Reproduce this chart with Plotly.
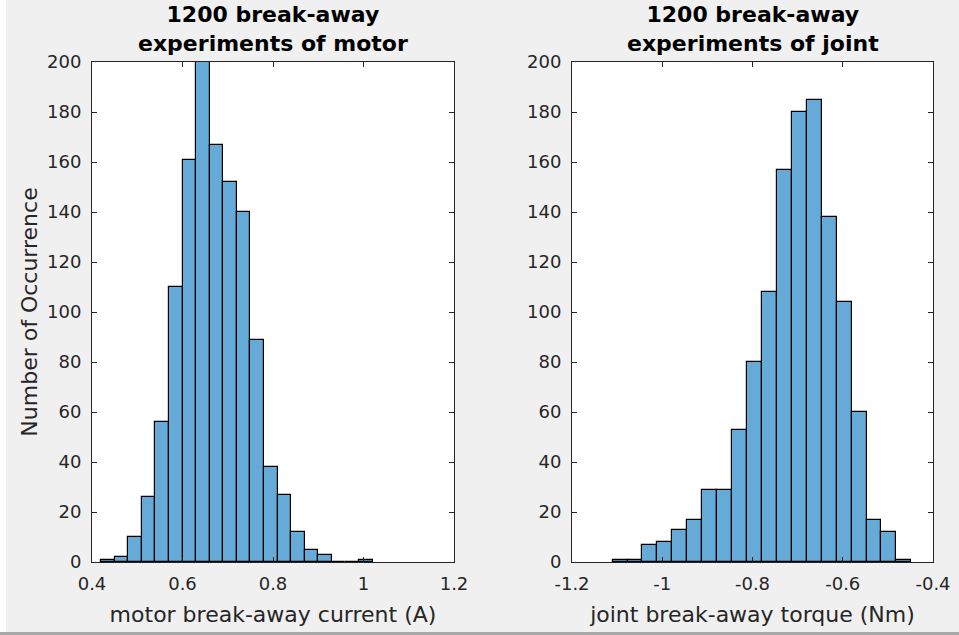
import plotly.graph_objects as go

# ---------------- data ----------------
motor_edges = [0.42 + 0.03 * k for k in range(21)]
motor_counts = [1, 2, 10, 26, 56, 110, 161, 200, 167, 152, 140, 89, 38, 27, 12, 5, 3, 0, 0, 1]

joint_edges = [-1.11 + 0.0331 * k for k in range(21)]
joint_counts = [1, 1, 7, 8, 13, 17, 29, 29, 53, 80, 108, 157, 180, 185, 138, 104, 60, 17, 12, 1]

motor_ticks = [0.4, 0.6, 0.8, 1.0, 1.2]
motor_ticklabels = ["0.4", "0.6", "0.8", "1", "1.2"]
joint_ticks = [-1.2, -1.0, -0.8, -0.6, -0.4]
joint_ticklabels = ["-1.2", "-1", "-0.8", "-0.6", "-0.4"]
y_ticks = list(range(0, 201, 20))

titles = ["1200 break-away<br>experiments of motor", "1200 break-away<br>experiments of joint"]
x_labels = ["motor break-away current (A)", "joint break-away torque (Nm)"]
y_label = "Number of Occurrence"

# ---------------- style ----------------
W, H = 959, 635
FONT = "DejaVu Sans"
TXT = "#262626"
BAR = "#66aad7"
BG = "#f0f0f0"


def centers(edges):
    return [(edges[i] + edges[i + 1]) / 2 for i in range(len(edges) - 1)]


def widths(edges):
    return [edges[i + 1] - edges[i] for i in range(len(edges) - 1)]


fig = go.Figure()
fig.add_trace(go.Bar(x=centers(motor_edges), y=motor_counts, width=widths(motor_edges),
                     marker=dict(color=BAR, line=dict(color="#000000", width=1.2)),
                     xaxis="x", yaxis="y", showlegend=False, hoverinfo="x+y"))
fig.add_trace(go.Bar(x=centers(joint_edges), y=joint_counts, width=widths(joint_edges),
                     marker=dict(color=BAR, line=dict(color="#000000", width=1.2)),
                     xaxis="x2", yaxis="y2", showlegend=False, hoverinfo="x+y"))

xdom1 = [92 / W, 454 / W]
xdom2 = [572 / W, 933 / W]
ydom = [1 - 562 / H, 1 - 62 / H]

axis_common = dict(showline=True, linecolor=TXT, linewidth=1, mirror="ticks",
                   ticks="inside", ticklen=5, tickcolor=TXT, tickwidth=1,
                   showgrid=False, zeroline=False, automargin=False,
                   tickfont=dict(family=FONT, size=18, color=TXT))

fig.update_layout(
    width=W, height=H, autosize=False,
    margin=dict(l=0, r=0, t=0, b=0, pad=0),
    paper_bgcolor=BG, plot_bgcolor="white",
    bargap=0,
    xaxis=dict(domain=xdom1, anchor="y", range=[0.4, 1.2], tickvals=motor_ticks,
               ticktext=motor_ticklabels, ticklabelstandoff=5,
               title=dict(text=x_labels[0], font=dict(family=FONT, size=22, color=TXT), standoff=14),
               **axis_common),
    yaxis=dict(domain=ydom, anchor="x", range=[0, 200], tickvals=y_ticks, ticklabelstandoff=6,
               title=dict(text=y_label, font=dict(family=FONT, size=22, color=TXT), standoff=3),
               **axis_common),
    xaxis2=dict(domain=xdom2, anchor="y2", range=[-1.2, -0.4], tickvals=joint_ticks,
                ticktext=joint_ticklabels, ticklabelstandoff=5,
                title=dict(text=x_labels[1], font=dict(family=FONT, size=22, color=TXT), standoff=14),
                **axis_common),
    yaxis2=dict(domain=ydom, anchor="x2", range=[0, 200], tickvals=y_ticks, ticklabelstandoff=6,
                **axis_common),
    font=dict(family=FONT, color=TXT),
)

for i, dom in enumerate([xdom1, xdom2]):
    fig.add_annotation(text="<b>" + titles[i].replace("<br>", "</b><br><b>") + "</b>",
                       xref="paper", yref="paper", x=(dom[0] + dom[1]) / 2, y=ydom[1],
                       xanchor="center", yanchor="bottom", yshift=4, showarrow=False,
                       font=dict(family=FONT, size=22, color="#000000"), align="center")

# screenshot frame: white strip at left, darker line at bottom
fig.add_shape(type="rect", xref="paper", yref="paper", x0=0, x1=6 / W, y0=0, y1=1,
              fillcolor="white", line=dict(width=0), layer="below")
fig.add_shape(type="rect", xref="paper", yref="paper", x0=0, x1=1, y0=0, y1=3 / H,
              fillcolor="#a8a8a8", line=dict(width=0), layer="below")

fig.write_html("out.html", config={"responsive": False, "displayModeBar": False},
               post_script="document.body.style.margin='0';document.body.style.overflow='hidden';")
